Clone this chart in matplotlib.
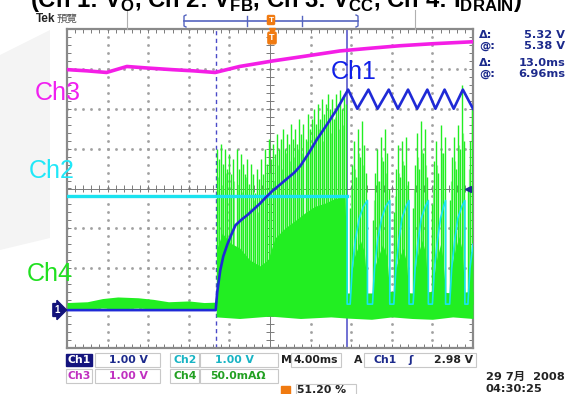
import numpy as np
import matplotlib
matplotlib.use("Agg")
import matplotlib.pyplot as plt
from matplotlib.patches import Rectangle, Polygon
from matplotlib.lines import Line2D

W, H = 573, 394

plt.rcParams['font.family'] = ['Liberation Sans', 'Noto Sans CJK TC', 'DejaVu Sans']
plt.rcParams['mathtext.fontset'] = 'custom'
plt.rcParams['mathtext.bf'] = 'Liberation Sans:bold'
plt.rcParams['mathtext.rm'] = 'Liberation Sans'

# ---- traces: time in ms (4 ms/div), amplitude in screen divisions ----
ch1_t = [-20, -5.35, -5.2, -4.9, -4.6, -4.2, -3.8, -3.4, -2.8, -2.2, -1.6, -1.0, -0.4, 0.2,
         1.0, 1.7, 2.4, 3.0, 3.8, 4.6, 5.6, 6.6, 7.7,
         8.6, 9.7, 10.6, 11.7, 12.6, 13.6, 14.5, 15.5, 16.3, 17.2, 18.1, 19.0, 20.0]
ch1_v = [-3.05, -3.05, -2.6, -2.05, -1.7, -1.4, -1.15, -0.92, -0.78, -0.66, -0.52, -0.38, -0.22, -0.07,
         0.1, 0.25, 0.4, 0.57, 0.88, 1.22, 1.6, 1.99, 2.48,
         2.0, 2.48, 2.0, 2.48, 2.0, 2.48, 2.0, 2.48, 2.0, 2.48, 2.0, 2.48, 2.0]

ch3_t = [-19.9, -18.0, -16.1, -14.1, -12.0, -9.6, -7.5, -5.4, -3.0, 0.3, 3.5, 6.9, 10.0, 12.8, 16.0, 20.0]
ch3_v = [2.98, 2.95, 2.91, 3.06, 3.02, 2.98, 2.95, 2.91, 3.06, 3.20, 3.32, 3.45, 3.52, 3.58, 3.63, 3.68]

# Ch2: flat until the cursor, then one rise per switching burst
ch2_flat_t = [-20, 7.6]
ch2_flat_v = [-0.2, -0.2]
ch2_t = [7.6, 7.6, 7.9, 8.1, 8.4, 8.8, 9.2, 9.6, 9.6,
         10.1, 10.3, 10.6, 11.0, 11.4, 11.8, 11.8,
         12.2, 12.4, 12.7, 13.0, 13.4, 13.7, 13.7,
         14.1, 14.3, 14.6, 14.9, 15.3, 15.6, 15.6,
         16.0, 16.2, 16.5, 16.8, 17.1, 17.3, 17.3,
         17.7, 17.9, 18.2, 18.5, 18.9, 19.2, 19.2,
         19.5, 19.7, 20.0]
ch2_v = [-0.2, -2.9, -2.9, -2.0, -1.3, -0.75, -0.45, -0.3, -2.9,
         -2.9, -2.0, -1.3, -0.75, -0.45, -0.3, -2.9,
         -2.9, -2.0, -1.3, -0.75, -0.45, -0.3, -2.9,
         -2.9, -2.0, -1.3, -0.75, -0.45, -0.3, -2.9,
         -2.9, -2.0, -1.3, -0.75, -0.45, -0.3, -2.9,
         -2.9, -2.0, -1.3, -0.75, -0.45, -0.3, -2.9,
         -2.9, -2.0, -1.4]

# Ch4 (drain current): noise floor, dense body and tall switching spikes
ch4_floor_t = [-20, -18, -16.5, -15, -13, -11.5, -10, -8, -6.5, -5.3, -5.3, -3, 0, 3, 6, 7.6, 7.6,
               10, 12, 14, 16, 18, 20]
ch4_floor_hi = [-2.86, -2.84, -2.76, -2.72, -2.74, -2.78, -2.84, -2.82, -2.86, -2.85, -2.6, -2.55,
                -2.55, -2.55, -2.5, -2.5, -2.62, -2.62, -2.58, -2.62, -2.58, -2.62, -2.58]
ch4_floor_lo = [-3.02, -3.02, -3.0, -3.02, -3.0, -3.02, -3.02, -3.03, -3.02, -3.03, -3.22, -3.26,
                -3.2, -3.26, -3.22, -3.25, -3.25, -3.28, -3.22, -3.26, -3.28, -3.22, -3.26]

ch4_body_t = [-5.3, -5.2, -4.7, -3.9, -3.0, -2.0, -1.0, -0.2, 0.5, 1.5, 2.5, 3.4, 4.4, 5.4, 6.4, 7.4, 7.6]
ch4_body_v = [-2.8, -1.49, -1.12, -1.37, -1.49, -1.79, -1.94, -1.79, -1.24, -0.99, -0.80, -0.62,
              -0.45, -0.37, -0.25, -0.20, -2.8]

ch4_burst_t = [[7.9, 8.2, 8.9, 9.3, 9.6], [10.1, 10.4, 11.1, 11.5, 11.8], [12.2, 12.5, 13.1, 13.4, 13.7],
               [14.1, 14.4, 15.0, 15.3, 15.6], [16.0, 16.3, 16.8, 17.0, 17.3], [17.7, 18.0, 18.6, 18.9, 19.2],
               [19.5, 19.7, 20.0, 20.0, 20.0]]
ch4_burst_v = [[-2.6, -1.8, -1.3, -1.6, -2.6], [-2.6, -1.9, -1.4, -1.7, -2.6], [-2.6, -1.9, -1.5, -1.8, -2.6],
               [-2.6, -1.8, -1.3, -1.6, -2.6], [-2.6, -1.9, -1.4, -1.7, -2.6], [-2.6, -1.8, -1.2, -1.5, -2.6],
               [-2.6, -1.8, -1.4, -1.4, -1.4]]

ch4_spike_t = [-5.2, -5.0, -4.8, -4.6, -4.4, -4.2, -4.0, -3.8, -3.6, -3.3, -3.1, -2.9, -2.7, -2.5,
               -2.3, -2.1, -1.9, -1.7, -1.5, -1.3, -1.1, -0.9, -0.7, -0.5, -0.3, -0.1, 0.1, 0.3,
               0.5, 0.7, 0.9, 1.1, 1.3, 1.5, 1.7, 1.9, 2.1, 2.3, 2.5, 2.7, 2.9, 3.1, 3.3, 3.5,
               3.7, 3.9, 4.1, 4.3, 4.5, 4.7, 4.9, 5.1, 5.3, 5.5, 5.7, 5.9, 6.1, 6.3, 6.5, 6.7,
               6.9, 7.1, 7.3, 7.5,
               7.9, 8.1, 8.3, 8.5, 8.7, 8.9, 9.1, 9.3, 9.5,
               10.1, 10.3, 10.5, 10.7, 10.9, 11.1, 11.3, 11.5, 11.7,
               12.2, 12.4, 12.6, 12.8, 13.0, 13.2, 13.4, 13.6,
               14.1, 14.3, 14.5, 14.7, 14.9, 15.1, 15.3, 15.5,
               16.0, 16.2, 16.4, 16.6, 16.8, 17.0, 17.2,
               17.7, 17.9, 18.1, 18.3, 18.5, 18.7, 18.9, 19.1,
               19.5, 19.7, 19.9]
ch4_spike_v = [0.99, 0.75, 1.12, 0.62, 0.99, 0.50, 0.87, 0.37, 0.75, 0.99, 0.50, 0.87, 0.62, 0.37,
               0.75, 0.12, 0.62, 0.37, -0.12, 0.50, 0.25, 0.75, 0.37, 0.99, 0.62, 1.24, 0.75, 1.12,
               0.87, 1.37, 0.99, 1.24, 1.49, 0.99, 1.37, 1.12, 1.61, 1.24, 1.49, 1.12, 1.74, 1.37,
               1.61, 1.24, 1.86, 1.49, 1.74, 1.99, 1.61, 2.11, 1.74, 2.24, 1.86, 2.11, 2.36, 1.99,
               2.24, 1.74, 2.36, 2.11, 2.48, 1.99, 2.36, 2.11,
               -0.5, 0.6, 1.2, 0.3, 1.5, 0.8, 1.7, 1.1, 0.4,
               -0.8, 0.4, 1.0, 0.2, 1.3, 0.7, 1.5, 0.9, 0.0,
               -0.6, 0.5, 1.1, 0.3, 1.2, 0.6, 1.3, 0.2,
               -0.5, 0.6, 1.4, 0.5, 1.7, 0.9, 1.5, 0.3,
               -0.4, 0.7, 1.2, 0.4, 1.6, 0.9, 1.3,
               -0.3, 0.8, 1.3, 0.5, 1.6, 1.0, 2.6, 1.2,
               0.0, 1.2, 2.0]

# fainter in-between spikes
ch4_fine_t = [-5.1, -4.7, -4.3, -3.9, -3.5, -3.2, -2.8, -2.4, -2.0, -1.6, -1.2, -0.8, -0.4, 0.0,
              0.4, 0.8, 1.2, 1.6, 2.0, 2.4, 2.8, 3.2, 3.6, 4.0, 4.4, 4.8, 5.2, 5.6, 6.0, 6.4,
              6.8, 7.2, 8.0, 8.4, 8.8, 9.2, 10.2, 10.6, 11.0, 11.4, 12.3, 12.7, 13.1, 13.5,
              14.2, 14.6, 15.0, 15.4, 16.1, 16.5, 16.9, 17.8, 18.2, 18.6, 19.0, 19.6]
ch4_fine_v = [0.3, 0.1, 0.4, -0.2, 0.2, 0.1, -0.1, 0.3, -0.5, -0.3, -0.6, 0.0, -0.2, 0.4,
              0.2, 0.6, 0.5, 0.9, 0.7, 0.8, 1.0, 0.9, 1.2, 1.1, 1.3, 1.5, 1.2, 1.6, 1.4, 1.8,
              1.5, 1.6, 0.0, 0.5, 0.9, 0.6, -0.3, 0.2, 0.8, 0.4, -0.2, 0.4, 0.7, 0.1,
              0.0, 0.8, 1.0, 0.6, 0.1, 0.6, 0.9, 0.2, 0.7, 1.1, 1.4, 0.5]

readouts = [("Δ:", "5.32 V"), ("@:", "5.38 V"), ("Δ:", "13.0ms"), ("@:", "6.96ms")]

GREEN = '#22ee22'
LIGHTGREEN = '#8af58a'
CYAN = '#19e3f0'
MAGENTA = '#f41ee6'
BLUE = '#1f2ad6'
NAVY = '#1c2a8c'
TEKFONT = ['DejaVu Sans', 'Noto Sans CJK TC']


def fx(x):
    return x / W


def fy(y):
    return 1 - y / H


def ftext(x, y, s, **kw):
    fig.text(fx(x), fy(y), s, **kw)


def fline(xs, ys, **kw):
    fig.add_artist(Line2D([fx(v) for v in xs], [fy(v) for v in ys], **kw))


def fbox(x0, y0, x1, y1, **kw):
    fig.add_artist(Rectangle((fx(x0), fy(y1)), fx(x1) - fx(x0), fy(y0) - fy(y1), **kw))


def stat(x, y, s, color, ha='center'):
    ftext(x, y, s, color=color, fontsize=7.8, weight='bold', ha=ha, va='center', family=TEKFONT)


fig = plt.figure(figsize=(W / 100, H / 100), dpi=100)

# faint grey slide background at left
fig.add_artist(Polygon([(fx(0), fy(55)), (fx(50), fy(30)), (fx(50), fy(238)), (fx(0), fy(250))],
                       closed=True, fc='#f4f4f4', ec='none', zorder=0))

ax = fig.add_axes([fx(67), fy(348), fx(473) - fx(67), fy(29) - fy(348)])
ax.set_xlim(-20, 20)
ax.set_ylim(-4, 4)
ax.set_xticks([])
ax.set_yticks([])
ax.set_facecolor('white')
for s in ax.spines.values():
    s.set_color('#8a8a8a')
    s.set_linewidth(1.6)

# graticule dots
for xv in range(-16, 17, 4):
    if xv != 0:
        yy = np.arange(-4, 4.01, 0.2)
        ax.plot(np.full_like(yy, xv), yy, ls='none', marker='s', ms=0.9, color='#a0a0a0', zorder=1)
for yv in range(-3, 4):
    if yv != 0:
        xx = np.arange(-20, 20.01, 0.8)
        ax.plot(xx, np.full_like(xx, yv), ls='none', marker='s', ms=0.9, color='#a0a0a0', zorder=1)
ax.axhline(0, color='#7a7a7a', lw=0.7, zorder=1)
ax.axvline(0, color='#7a7a7a', lw=0.7, zorder=1)
mx = np.arange(-20, 20.01, 0.8)
my = np.arange(-4, 4.01, 0.2)
ax.vlines(mx, -0.08, 0.08, color='#7a7a7a', lw=0.7, zorder=1)
ax.hlines(my, -0.35, 0.35, color='#7a7a7a', lw=0.7, zorder=1)
ax.vlines(mx, -4, -3.9, color='#7a7a7a', lw=0.7, zorder=1)
ax.vlines(mx, 3.9, 4, color='#7a7a7a', lw=0.7, zorder=1)
ax.hlines(my, -20, -19.6, color='#7a7a7a', lw=0.7, zorder=1)
ax.hlines(my, 19.6, 20, color='#7a7a7a', lw=0.7, zorder=1)

# cursors
ax.axvline(-5.3, color='#4a4ac8', lw=1.0, ls=(0, (3, 2.5)), zorder=2)
ax.axvline(7.6, color='#4a4ac8', lw=1.1, zorder=2)

# Ch4
ax.vlines(ch4_fine_t, -2.8, ch4_fine_v, color=LIGHTGREEN, lw=0.9, zorder=2.5)
ax.fill_between(ch4_floor_t, ch4_floor_lo, ch4_floor_hi, color=GREEN, lw=0, zorder=3)
ax.fill_between(ch4_body_t, -2.9, ch4_body_v, color=GREEN, lw=0, zorder=3)
for bt, bv in zip(ch4_burst_t, ch4_burst_v):
    ax.fill_between(bt, -2.9, bv, color=GREEN, lw=0, zorder=3)
ax.vlines(ch4_spike_t, -2.8, ch4_spike_v, color=GREEN, lw=1.0, zorder=3)

# Ch3, Ch2, Ch1
ax.plot(ch3_t, ch3_v, color=MAGENTA, lw=2.6, zorder=4)
ax.plot(ch2_flat_t, ch2_flat_v, color=CYAN, lw=2.4, zorder=5)
ax.plot(ch2_t, ch2_v, color=CYAN, lw=1.2, zorder=5)
ax.plot(ch1_t, ch1_v, color=BLUE, lw=1.9, zorder=6)

# trigger level arrow on right edge
ax.plot([19.55], [0], marker='<', ms=5, color=NAVY, zorder=7, clip_on=False)

# ground marker for Ch1
ftext(57, 310, '1', color='white', fontsize=7, weight='bold', ha='center', va='center',
      bbox=dict(boxstyle='rarrow,pad=0.15', fc='#12127a', ec='#12127a'))

# trigger position marker
ax.plot([0.2], [3.95], marker='v', ms=5, color='#f07a10', zorder=7, clip_on=False)
ftext(272, 38, 'T', color='white', fontsize=6.5, weight='bold', ha='center', va='center',
      bbox=dict(boxstyle='round,pad=0.15', fc='#f07a10', ec='#f07a10'))

# title, partially cut off by the top edge
ftext(30, 6.5, r'(Ch 1: V$_\mathbf{O}$, Ch 2: V$_\mathbf{FB}$, Ch 3: V$_\mathbf{CC}$, Ch 4: I$_\mathbf{DRAIN}$)',
      fontsize=17.2, weight='bold', ha='left', va='baseline')

# header
ftext(36, 19, 'Tek', fontsize=8.5, weight='bold', ha='left', va='center', color='#222222')
ftext(57, 19, '預覽', fontsize=7.5, ha='left', va='center', color='#555555', family=['Noto Sans CJK TC'])
fline([127, 127], [10, 29], color='#b0b0b0', lw=0.8)
fline([415, 415], [10, 29], color='#b0b0b0', lw=0.8)
fline([184, 358], [21, 21], color='#5565c0', lw=1.2)
fline([186, 184, 184, 186], [15, 16, 26, 27], color='#5565c0', lw=1.0)
fline([356, 358, 358, 356], [15, 16, 26, 27], color='#5565c0', lw=1.0)
fline([247, 247], [16, 26], color='#5565c0', lw=1.0)
fline([302, 302], [16, 26], color='#5565c0', lw=1.0)
ftext(271, 20, 'T', color='white', fontsize=6, weight='bold', ha='center', va='center',
      bbox=dict(boxstyle='round,pad=0.12', fc='#f07a10', ec='#f07a10'))

# readouts on right
for i, (k, v) in enumerate(readouts):
    yy = [35, 46, 63, 74][i]
    ftext(479, yy, k, color=NAVY, fontsize=8.2, weight='bold', ha='left', va='center', family=TEKFONT)
    ftext(565, yy, v, color=NAVY, fontsize=8.2, weight='bold', ha='right', va='center', family=TEKFONT)

# channel annotations
ftext(58, 93, 'Ch3', color='#f020f0', fontsize=18, ha='center', va='center')
ftext(52, 171, 'Ch2', color='#20e8f8', fontsize=18, ha='center', va='center')
ftext(50, 274, 'Ch4', color='#20e020', fontsize=18, ha='center', va='center')
ftext(354, 72, 'Ch1', color='#1020e8', fontsize=18, ha='center', va='center')

# status bar
fbox(66, 354, 92, 366, fc='#14147e', ec='#14147e')
stat(79, 360, 'Ch1', 'white')
fbox(95, 353, 160, 367, fc='none', ec='#c8c8c8', lw=0.8)
stat(128, 360, '1.00 V', NAVY)
fbox(170, 353, 199, 367, fc='none', ec='#c8c8c8', lw=0.8)
stat(185, 360, 'Ch2', '#18b4c4')
fbox(200, 353, 278, 367, fc='none', ec='#c8c8c8', lw=0.8)
stat(234, 360, '1.00 V', '#18b4c4')
stat(286, 360, 'M', '#222222')
fbox(291, 353, 341, 367, fc='none', ec='#c8c8c8', lw=0.8)
stat(316, 360, '4.00ms', '#222222')
stat(358, 360, 'A', '#222222')
fbox(364, 353, 476, 367, fc='none', ec='#c8c8c8', lw=0.8)
stat(385, 360, 'Ch1', NAVY)
stat(411, 360, 'ʃ', NAVY)
stat(473, 360, '2.98 V', '#222222', ha='right')

fbox(66, 369, 92, 383, fc='none', ec='#c8c8c8', lw=0.8)
stat(79, 376, 'Ch3', '#c030c0')
fbox(95, 369, 160, 383, fc='none', ec='#c8c8c8', lw=0.8)
stat(128, 376, '1.00 V', '#c030c0')
fbox(170, 369, 199, 383, fc='none', ec='#c8c8c8', lw=0.8)
stat(185, 376, 'Ch4', '#22a022')
fbox(200, 369, 278, 383, fc='none', ec='#c8c8c8', lw=0.8)
stat(238, 376, '50.0mAΩ', '#22a022')

fbox(281, 386, 290, 395, fc='#f07a10', ec='#f07a10')
fbox(296, 384, 356, 398, fc='none', ec='#c8c8c8', lw=0.8)
stat(322, 390, '51.20 %', '#222222')

ftext(486, 377, '29 7月  2008', color='#222222', fontsize=8.2, weight='bold', ha='left', va='center',
      family=TEKFONT)
ftext(486, 389, '04:30:25', color='#222222', fontsize=8.2, weight='bold', ha='left', va='center',
      family=TEKFONT)

fig.savefig('out.png', dpi=100)
